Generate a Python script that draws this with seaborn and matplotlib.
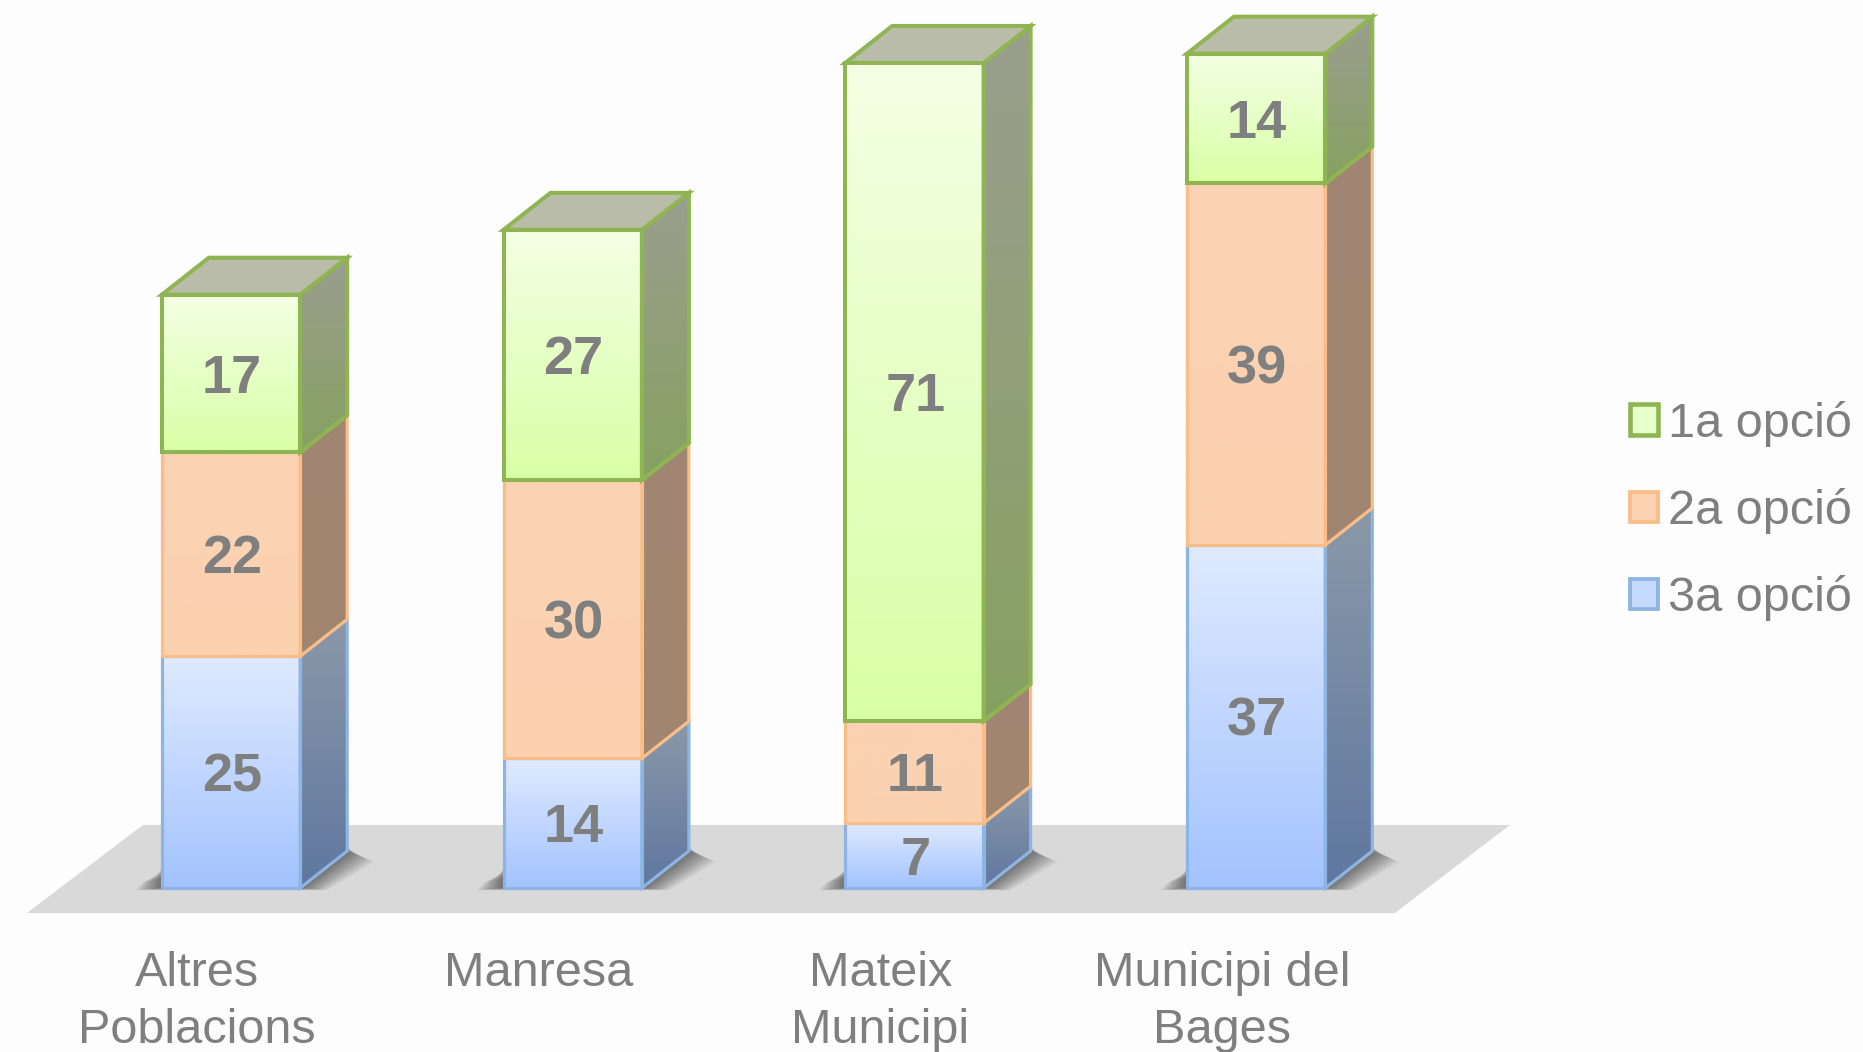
import numpy as np
import pandas as pd
import seaborn as sns
import matplotlib.pyplot as plt
from matplotlib.colors import LinearSegmentedColormap
from matplotlib.patches import Patch, Polygon
from matplotlib.transforms import ScaledTranslation

# Values
poblacions = ["Altres\nPoblacions", "Manresa", "Mateix\nMunicipi", "Municipi del\nBages"]
opcio_3a = [25, 14, 7, 37]
opcio_2a = [22, 30, 11, 39]
opcio_1a = [17, 27, 71, 14]

sns.set_style("white")
plt.rcParams["font.family"] = ["Liberation Sans", "DejaVu Sans"]

BG = "#fdfdfd"
TEXT = "#7f7f7f"

# one entry per stacked block, bottom first
estils = [
    {"label": "3a opció", "vals": opcio_3a, "edge": "#8db4e2", "lw": 2.3,
     "front": ["#dfeaff", "#a3c3fe"], "side": ["#8b98a8", "#5f77a0"], "key": "#c6d9ff"},
    {"label": "2a opció", "vals": opcio_2a, "edge": "#fbbd87", "lw": 2.3,
     "front": ["#fbd3b4", "#fbd1b0"], "side": ["#a08773", "#a08570"], "key": "#fbd3b4"},
    {"label": "1a opció", "vals": opcio_1a, "edge": "#8fb552", "lw": 2.9,
     "front": ["#f4ffe4", "#d9ffa6"], "side": ["#9a9e8e", "#87a162"], "key": "#e6ffcb"},
]

# px scale of the data area
PX_X = 341.7
PX_Y = 9.27
DEPTH_X = 47 / PX_X
DEPTH_Y = 37 / PX_Y
SHADOW = 0.08

fig = plt.figure(figsize=(18.63, 10.52), dpi=100, facecolor=BG)
ax = fig.add_axes([0, 122 / 1052, 1, 930 / 1052], facecolor=BG)


def gradient(box, colors, clip, z):
    cmap = LinearSegmentedColormap.from_list("g", colors)
    im = ax.imshow(np.linspace(0, 1, 128).reshape(-1, 1), cmap=cmap, extent=box,
                   aspect="auto", origin="upper", zorder=z, interpolation="bilinear")
    im.set_clip_path(Polygon(clip, transform=ax.transData))


bottom = np.zeros(len(poblacions))
for k, est in enumerate(estils):
    df = pd.DataFrame({"poblacio": poblacions, "valor": est["vals"]})
    sns.barplot(data=df, x="poblacio", y="valor", bottom=bottom, width=0.405, color=est["front"][0],
                saturation=1, edgecolor=est["edge"], linewidth=est["lw"], ax=ax)
    cont = ax.containers[-1]
    for t in ax.bar_label(cont, label_type="center", color=TEXT, fontsize=39, fontweight="bold", zorder=10):
        t.xyann = (0.7, -3.6)  # labels sit a bit under the middle of the block

    base_z = 3 + k
    for bar in cont:
        x0, x1 = bar.get_x(), bar.get_x() + bar.get_width()
        y0, y1 = bar.get_y(), bar.get_y() + bar.get_height()

        # front with gradient, seaborn bar stays as the outline
        gradient([x0, x1, y0, y1], est["front"],
                 [(x0, y0), (x1, y0), (x1, y1), (x0, y1)], base_z)
        bar.set_facecolor("none")
        bar.set_zorder(base_z + 0.5)

        # side face
        side = [(x1, y0), (x1 + DEPTH_X, y0 + DEPTH_Y), (x1 + DEPTH_X, y1 + DEPTH_Y), (x1, y1)]
        gradient([x1, x1 + DEPTH_X, y0, y1 + DEPTH_Y], est["side"], side, base_z + 0.1)
        ax.add_patch(Polygon(side, closed=True, fc="none", ec=est["edge"], lw=est["lw"], zorder=base_z + 0.3))

        # soft shadow on the floor, stacked outlines that fade outwards
        if k == 0:
            for g in np.linspace(0.003, SHADOW, 24):
                f = g / SHADOW
                ax.add_patch(Polygon([(x0 - g, -g * 3), (x1 + g, -g * 3),
                                      (x1 + DEPTH_X + g, DEPTH_Y * (1 - 0.3 * f)),
                                      (x1 + DEPTH_X, DEPTH_Y * (1 + 0.15 * (1 - f))),
                                      (x0, DEPTH_Y), (x0, 2.4 - 1.3 * f), (x0 - g * 0.7, 1.6 - 1.0 * f)],
                                     closed=True, fc="#000000", ec="none", alpha=0.022, zorder=1))

        # lid on the last block
        if k == len(estils) - 1:
            ax.add_patch(Polygon([(x0, y1), (x1, y1), (x1 + DEPTH_X, y1 + DEPTH_Y), (x0 + DEPTH_X, y1 + DEPTH_Y)],
                                 closed=True, fc="#b8bca8", ec=est["edge"], lw=est["lw"], zorder=base_z + 0.4))
    bottom = bottom + np.array(est["vals"])

# grey floor
ax.add_patch(Polygon([(-0.597, -2.7), (3.406, -2.7), (3.743, 6.8), (-0.258, 6.8)],
                     closed=True, fc="#d9d9d9", ec="none", zorder=0.5))

ax.set_xlim(-231 / PX_X, (1863 - 231) / PX_X)
ax.set_ylim(-42 / PX_Y, 888 / PX_Y)
ax.set_xlabel("")
ax.set_ylabel("")
ax.set_yticks([])
sns.despine(ax=ax, left=True, bottom=True)

ax.tick_params(axis="x", length=0, pad=15, labelsize=35, labelcolor=TEXT)
shift = ScaledTranslation(-34 / 100, 0, fig.dpi_scale_trans)
for lab in ax.get_xticklabels():
    lab.set_transform(lab.get_transform() + shift)
    lab.set_linespacing(1.36)

handles = [Patch(fc=e["key"], ec=e["edge"], lw=e["lw"] + 0.4, label=e["label"]) for e in reversed(estils)]
ax.legend(handles=handles, loc="center left", bbox_to_anchor=(1630 / 1863, 1 - 511 / 1052),
          bbox_transform=fig.transFigure, frameon=False, fontsize=35, labelcolor=TEXT,
          handlelength=0.58, handleheight=0.58, handletextpad=0.2, labelspacing=0.85, borderpad=0, borderaxespad=0)

fig.savefig("out.png", dpi=100, facecolor=BG)
